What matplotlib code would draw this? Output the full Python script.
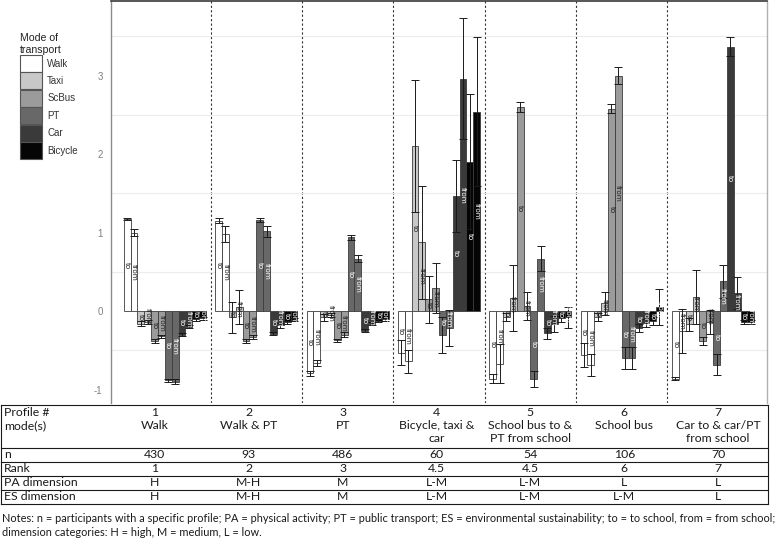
import matplotlib
matplotlib.use("Agg")
import matplotlib.pyplot as plt
from matplotlib.patches import Patch
import numpy as np

# ---------------- data ----------------
profiles = ["1", "2", "3", "4", "5", "6", "7"]
modes = ["Walk", "Taxi", "ScBus", "PT", "Car", "Bicycle"]
directions = ["to", "from"]

# values per profile: order Walk to, Walk from, Taxi to, Taxi from, ScBus to, ScBus from,
# PT to, PT from, Car to, Car from, Bicycle to, Bicycle from
p1_vals = [1.17, 1.00, -0.16, -0.14, -0.38, -0.32, -0.88, -0.90, -0.30, -0.20, -0.10, -0.09]
p1_err = [0.01, 0.04, 0.03, 0.03, 0.02, 0.02, 0.02, 0.03, 0.02, 0.02, 0.02, 0.02]
p2_vals = [1.15, 0.98, -0.08, 0.05, -0.38, -0.33, 1.16, 1.02, -0.29, -0.18, -0.14, -0.11]
p2_err = [0.03, 0.10, 0.20, 0.22, 0.03, 0.03, 0.03, 0.07, 0.02, 0.03, 0.02, 0.02]
p3_vals = [-0.79, -0.66, -0.08, -0.05, -0.37, -0.30, 0.94, 0.67, -0.25, -0.16, -0.12, -0.10]
p3_err = [0.03, 0.04, 0.04, 0.03, 0.02, 0.03, 0.03, 0.05, 0.02, 0.02, 0.02, 0.02]
p4_vals = [-0.53, -0.64, 2.10, 0.88, 0.15, 0.29, -0.30, -0.22, 1.47, 2.96, 1.90, 2.54]
p4_err = [0.16, 0.15, 0.84, 0.72, 0.30, 0.32, 0.23, 0.23, 0.46, 0.77, 0.86, 0.95]
p5_vals = [-0.86, -0.67, -0.07, 0.17, 2.60, 0.07, -0.86, 0.67, -0.28, -0.16, -0.09, -0.08]
p5_err = [0.06, 0.25, 0.05, 0.42, 0.06, 0.18, 0.10, 0.16, 0.07, 0.10, 0.05, 0.13]
p6_vals = [-0.56, -0.69, -0.07, 0.10, 2.58, 3.00, -0.60, -0.60, -0.22, -0.15, -0.13, 0.05]
p6_err = [0.15, 0.14, 0.05, 0.15, 0.06, 0.11, 0.14, 0.14, 0.05, 0.05, 0.05, 0.23]
p7_vals = [-0.86, -0.25, -0.17, 0.18, -0.38, -0.14, -0.68, 0.38, 3.37, 0.23, -0.14, -0.14]
p7_err = [0.02, 0.28, 0.08, 0.35, 0.05, 0.15, 0.13, 0.21, 0.12, 0.20, 0.03, 0.03]

values = [p1_vals, p2_vals, p3_vals, p4_vals, p5_vals, p6_vals, p7_vals]
errors = [p1_err, p2_err, p3_err, p4_err, p5_err, p6_err, p7_err]

mode_colors = ["#ffffff", "#c8c8c8", "#9b9b9b", "#686868", "#3a3a3a", "#050505"]
text_colors = ["#222222", "#222222", "#222222", "#ffffff", "#ffffff", "#ffffff"]

# table data
row_labels = ["Profile #", "mode(s)", "n", "Rank", "PA dimension", "ES dimension"]
mode_names = ["Walk", "Walk & PT", "PT", "Bicycle, taxi &\ncar", "School bus to &\nPT from school",
              "School bus", "Car to & car/PT\nfrom school"]
n_vals = ["430", "93", "486", "60", "54", "106", "70"]
ranks = ["1", "2", "3", "4.5", "4.5", "6", "7"]
pa_dim = ["H", "M-H", "M", "L-M", "L-M", "L", "L"]
es_dim = ["H", "M-H", "M", "L-M", "L-M", "L-M", "L"]
notes = ["Notes: n = participants with a specific profile; PA = physical activity; PT = public transport; "
         "ES = environmental sustainability; to = to school, from = from school;",
         "dimension categories: H = high, M = medium, L = low."]

# ---------------- figure ----------------
W, H = 777, 542
fig = plt.figure(figsize=(W / 100, H / 100), dpi=100)

ax_left, ax_right, ax_top, ax_bot = 111, 767, 1, 403
ax = fig.add_axes([ax_left / W, 1 - ax_bot / H, (ax_right - ax_left) / W, (ax_bot - ax_top) / H])

n_bars = len(modes) * len(directions)
dodge = 0.9
bw = dodge / n_bars
xs = np.arange(1, len(profiles) + 1)

for gi, g in enumerate(xs):
    for k in range(n_bars):
        mi = k // 2
        di = k % 2
        xk = g - dodge / 2 + bw * (k + 0.5)
        v = values[gi][k]
        e = errors[gi][k]
        ax.bar(xk, v, width=bw, color=mode_colors[mi], edgecolor="#3c3c3c", linewidth=0.6, zorder=2)
        ax.errorbar(xk, v, yerr=e, fmt="none", ecolor="#1a1a1a", elinewidth=0.7, capsize=2.8,
                    capthick=0.7, zorder=3)
        ax.text(xk, v / 2, directions[di], rotation=270, ha="center", va="center",
                fontsize=5.2, color=text_colors[mi], zorder=4, family="DejaVu Sans")

for b in xs[:-1] + 0.5:
    ax.axvline(b, color="#333333", linestyle=(0, (2.0, 2.0)), linewidth=0.8, zorder=1)

ax.set_xlim(0.41, 7.59)
ax.set_ylim(-1.17, 3.95)
ax.set_yticks([-1, 0, 1, 2, 3])
ax.set_yticklabels(["-1", "0", "1", "2", "3"], fontsize=7, color="#7f7f7f", family="Liberation Sans")
ax.set_yticks([-0.5, 0.5, 1.5, 2.5, 3.5], minor=True)
ax.tick_params(axis="y", which="both", length=0, pad=6)
ax.set_xticks([])
ax.grid(axis="y", which="minor", color="#ececec", linewidth=0.8, zorder=0)
ax.grid(axis="y", which="major", visible=False)
ax.spines["bottom"].set_visible(False)
ax.spines["left"].set_color("#8c8c8c")
ax.spines["right"].set_color("#b0b0b0")
ax.spines["top"].set_color("#3a3a3a")
ax.spines["top"].set_linewidth(1.2)
for s in ["left", "right"]:
    ax.spines[s].set_linewidth(1.0)

# legend
handles = [Patch(facecolor=c, edgecolor="#555555", linewidth=0.8, label=m) for c, m in zip(mode_colors, modes)]
leg = fig.legend(handles=handles, loc="upper left", bbox_to_anchor=(20 / W, 1 - 33 / H),
                 frameon=False, title="Mode of\ntransport", alignment="left",
                 prop={"family": "Liberation Sans", "size": 7},
                 title_fontproperties={"family": "Liberation Sans", "size": 7.6},
                 handlelength=2.3, handleheight=2.3, labelspacing=0.05, handletextpad=0.5,
                 borderaxespad=0, borderpad=0)
for t in leg.get_texts():
    t.set_color("#333333")
leg.get_title().set_color("#222222")

# ---------------- table ----------------
tax = fig.add_axes([0, 0, 1, 1])
tax.set_xlim(0, W)
tax.set_ylim(H, 0)
tax.axis("off")

tbl_left, tbl_right = 0.5, 768
col_left = 108
col_w = (765 - col_left) / len(profiles)
hlines = [405, 448, 462, 476, 490, 504]
for yy in hlines:
    tax.plot([tbl_left, tbl_right], [yy, yy], color="#1a1a1a", linewidth=0.8)
for xx in [tbl_left, tbl_right]:
    tax.plot([xx, xx], [hlines[0], hlines[-1]], color="#1a1a1a", linewidth=0.8)

tfont = {"family": "Lato", "size": 8.8, "color": "#1a1a1a"}
row_y = [412, 426, 455, 469, 483, 497]
for lab, yy in zip(row_labels, row_y):
    tax.text(4, yy, lab, ha="left", va="center", **tfont)

for i in range(len(profiles)):
    cx = col_left + col_w * (i + 0.5)
    tax.text(cx, row_y[0], profiles[i], ha="center", va="center", **tfont)
    tax.text(cx, 420, mode_names[i], ha="center", va="top", linespacing=1.2, **tfont)
    tax.text(cx, row_y[2], n_vals[i], ha="center", va="center", **tfont)
    tax.text(cx, row_y[3], ranks[i], ha="center", va="center", **tfont)
    tax.text(cx, row_y[4], pa_dim[i], ha="center", va="center", **tfont)
    tax.text(cx, row_y[5], es_dim[i], ha="center", va="center", **tfont)

nfont = dict(tfont)
nfont["size"] = 7.9
tax.text(2, 518, notes[0], ha="left", va="center", **nfont)
tax.text(2, 533, notes[1], ha="left", va="center", **nfont)

fig.savefig("out.png", dpi=100)
